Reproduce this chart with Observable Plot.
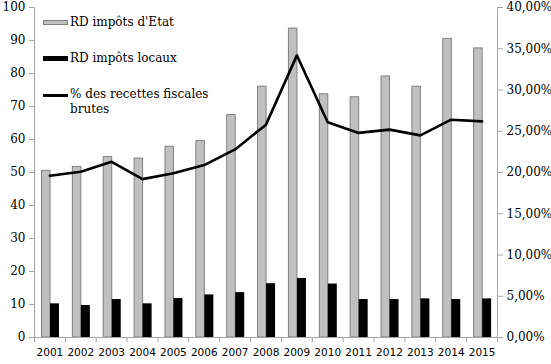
<!DOCTYPE html>
<html>
<head>
<meta charset="utf-8">
<script src="https://cdn.jsdelivr.net/npm/d3@7"></script>
<script src="https://cdn.jsdelivr.net/npm/@observablehq/plot@0.6"></script>
<style>
  html, body { margin: 0; padding: 0; background: #fff; }
  #wrap { position: relative; width: 551px; height: 364px; }
  #legend { position: absolute; left: 0; top: 0; font-size: 12px; font-family: "DejaVu Serif", serif; color: #000; }
  .li { position: absolute; display: flex; align-items: center; white-space: nowrap; }
  .sw { display: inline-block; width: 25px; margin-right: 2px; box-sizing: border-box; }
</style>
</head>
<body>
<div id="wrap">
  <div id="chart"></div>
  <div id="legend"></div>
</div>
<script>
const years = ["2001","2002","2003","2004","2005","2006","2007","2008","2009","2010","2011","2012","2013","2014","2015"];
const etat = [50.5, 51.7, 54.7, 54.2, 57.8, 59.5, 67.4, 76.0, 93.6, 73.7, 72.8, 79.1, 76.0, 90.5, 87.6];
const locaux = [10.2, 9.7, 11.5, 10.2, 11.8, 12.9, 13.6, 16.3, 17.9, 16.2, 11.5, 11.5, 11.7, 11.5, 11.7];
const pctRecettes = [19.6, 20.1, 21.3, 19.2, 19.9, 20.9, 22.8, 25.8, 34.2, 26.1, 24.8, 25.2, 24.5, 26.4, 26.2];
const leftTicks = [0, 10, 20, 30, 40, 50, 60, 70, 80, 90, 100];
const rightTicks = [0, 5, 10, 15, 20, 25, 30, 35, 40];
const seriesNames = ["RD impôts d'Etat", "RD impôts locaux", "% des recettes fiscales brutes"];

const ratio = 100 / 40; // right axis 40% == left axis 100
const W = 551, H = 364;
const mL = 34, mR = 54, mT = 7, mB = 27;
const bw = (W - mL - mR) / years.length;
const serif = "DejaVu Serif";
const sans = "DejaVu Sans";

const rowsE = years.map((y, i) => ({year: y, v: etat[i]}));
const rowsL = years.map((y, i) => ({year: y, v: locaux[i]}));
const rowsP = years.map((y, i) => ({year: y, v: pctRecettes[i] * ratio}));
const axisGray = "#a6a6a6";

const chart = Plot.plot({
  width: W, height: H,
  marginLeft: mL, marginRight: mR, marginTop: mT, marginBottom: mB,
  style: {background: "#fff", overflow: "visible"},
  x: {type: "band", domain: years, padding: 0, round: false, axis: null},
  y: {domain: [0, 100], axis: null},
  marks: [
    Plot.barY(rowsE, {x: "year", y: "v", fill: "#c0c0c0", stroke: "#808080", strokeWidth: 1,
      insetLeft: 7.5, insetRight: bw - 16}),
    Plot.barY(rowsL, {x: "year", y: "v", fill: "#000", insetLeft: 16, insetRight: bw - 25}),
    Plot.lineY(rowsP, {x: "year", y: "v", stroke: "#000", strokeWidth: 2.6, strokeLinejoin: "round"}),
    Plot.ruleY([0], {stroke: axisGray}),
    Plot.ruleX([years[0]], {dx: -bw / 2, stroke: axisGray}),
    Plot.ruleX([years[years.length - 1]], {dx: bw / 2, stroke: axisGray}),
    Plot.ruleX(years, {dx: -bw / 2, y1: 0, y2: -1.6, stroke: axisGray, clip: false}),
    Plot.ruleX([years[years.length - 1]], {dx: bw / 2, y1: 0, y2: -1.6, stroke: axisGray}),
    Plot.axisX({label: null, tickSize: 0, tickPadding: 11, fontSize: 10.5, fontFamily: sans, fill: "#000"}),
    Plot.axisY({anchor: "left", label: null, ticks: leftTicks, tickSize: 5, tickPadding: 4, stroke: axisGray,
      fontSize: 12, fontFamily: serif, fill: "#000"}),
    Plot.axisY({anchor: "right", label: null, ticks: rightTicks.map(t => t * ratio), tickSize: 5, tickPadding: 4, stroke: axisGray,
      tickFormat: d => (d / ratio).toFixed(2).replace(".", ",") + "%",
      fontSize: 12, fontFamily: serif, fill: "#000"})
  ]
});
document.getElementById("chart").appendChild(chart);

const leg = document.getElementById("legend");
const items = [
  {label: seriesNames[0], top: 14, sw: "height:5px;background:#c0c0c0;border:1px solid #808080;"},
  {label: seriesNames[1], top: 50, sw: "height:5px;background:#000;"},
  {label: seriesNames[2], top: 87, sw: "height:3px;background:#000;"}
];
items.forEach(it => {
  const d = document.createElement("div");
  d.className = "li";
  d.style.left = "43px";
  d.style.top = it.top + "px";
  d.style.height = "16px";
  if (it.label === seriesNames[2]) {
    d.style.alignItems = "flex-start";
    d.innerHTML = `<span class="sw" style="${it.sw}margin-top:7px"></span><span style="line-height:15px;width:160px;white-space:normal">% des recettes fiscales<br>brutes</span>`;
  } else {
    d.innerHTML = `<span class="sw" style="${it.sw}"></span><span>${it.label}</span>`;
  }
  leg.appendChild(d);
});
</script>
</body>
</html>
